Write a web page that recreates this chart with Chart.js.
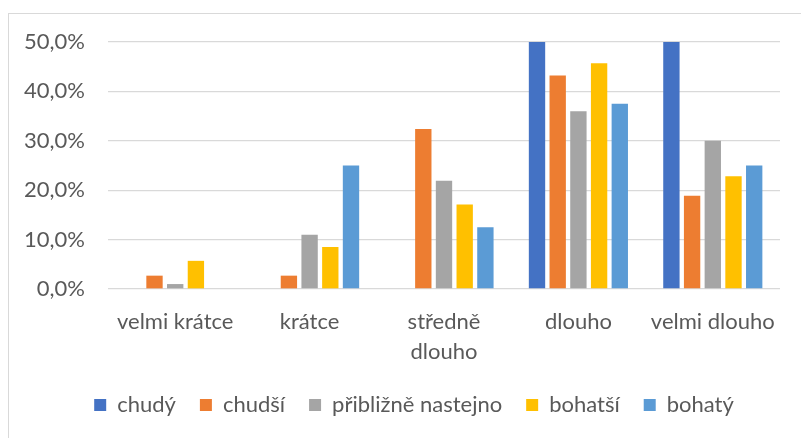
<!DOCTYPE html>
<html lang="cs">
<head>
  <meta charset="UTF-8" />
  <title>Graf</title>
  <style>
    html, body {
      margin: 0;
      padding: 0;
      background: #fff;
      overflow: hidden;
    }
    #frame {
      position: absolute;
      left: 8px;
      top: 13px;
      width: 820px;
      height: 460px;
      border: 1px solid #d9d9d9;
      box-sizing: border-box;
    }
    #wrap {
      position: absolute;
      left: 0;
      top: 0;
      width: 801px;
      height: 438px;
    }
  </style>
</head>
<body>

  <div id="frame"></div>
  <div id="wrap"><canvas id="chart"></canvas></div>

  <script src="https://cdn.jsdelivr.net/npm/chart.js"></script>

  <script>
    // kategorie (osa x)
    const categories = ['velmi krátce', 'krátce', ['středně', 'dlouho'], 'dlouho', 'velmi dlouho'];

    // hodnoty v procentech
    const chudy    = [0,   0,    0,    50,   50];
    const chudsi   = [2.7, 2.7,  32.4, 43.2, 18.9];
    const nastejno = [1.0, 11.0, 21.9, 36.0, 30.0];
    const bohatsi  = [5.7, 8.5,  17.1, 45.7, 22.8];
    const bohaty   = [0,   25.0, 12.5, 37.5, 25.0];

    const yTicks = [0, 10, 20, 30, 40, 50];

    const textColor = '#595959';
    const font = { family: 'Lato, "Open Sans", sans-serif', size: 22 };

    // posun legendy doprava (v Excelu není vystředěná podle plochy grafu)
    const shiftLegend = {
      id: 'shiftLegend',
      afterLayout(chart) {
        chart.legend.left += 24;
        chart.legend.right += 24;
      }
    };

    new Chart(document.getElementById('chart'), {
      type: 'bar',
      data: {
        labels: categories,
        datasets: [
          { label: 'chudý', data: chudy, backgroundColor: '#4472C4' },
          { label: 'chudší', data: chudsi, backgroundColor: '#ED7D31' },
          { label: 'přibližně nastejno', data: nastejno, backgroundColor: '#A5A5A5' },
          { label: 'bohatší', data: bohatsi, backgroundColor: '#FFC000' },
          { label: 'bohatý', data: bohaty, backgroundColor: '#5B9BD5' }
        ]
      },
      plugins: [shiftLegend],
      options: {
        responsive: true,
        maintainAspectRatio: false,
        animation: false,
        datasets: {
          bar: { categoryPercentage: 0.77, barPercentage: 0.79 }
        },
        layout: {
          padding: { left: 0, right: 21, top: 42, bottom: 12 }
        },
        plugins: {
          legend: {
            position: 'bottom',
            labels: {
              color: textColor,
              font: font,
              boxWidth: 12,
              boxHeight: 12,
              padding: 24
            }
          },
          tooltip: { enabled: false }
        },
        scales: {
          x: {
            afterFit: (scale) => { scale.height = 81; },
            grid: { display: false, drawTicks: false },
            border: { display: false },
            ticks: {
              color: textColor,
              font: { ...font, lineHeight: 1.36 },
              padding: 18,
              maxRotation: 0,
              autoSkip: false
            }
          },
          y: {
            min: 0,
            max: 50,
            afterFit: (scale) => { scale.width = 108; },
            afterBuildTicks: (scale) => {
              scale.ticks = yTicks.map(v => ({ value: v }));
            },
            grid: { color: '#d9d9d9', lineWidth: 1.3, drawTicks: false },
            border: { display: false },
            ticks: {
              color: textColor,
              font: font,
              padding: 23,
              callback: (v) => v.toFixed(1).replace('.', ',') + '%'
            }
          }
        }
      }
    });
  </script>
</body>
</html>
